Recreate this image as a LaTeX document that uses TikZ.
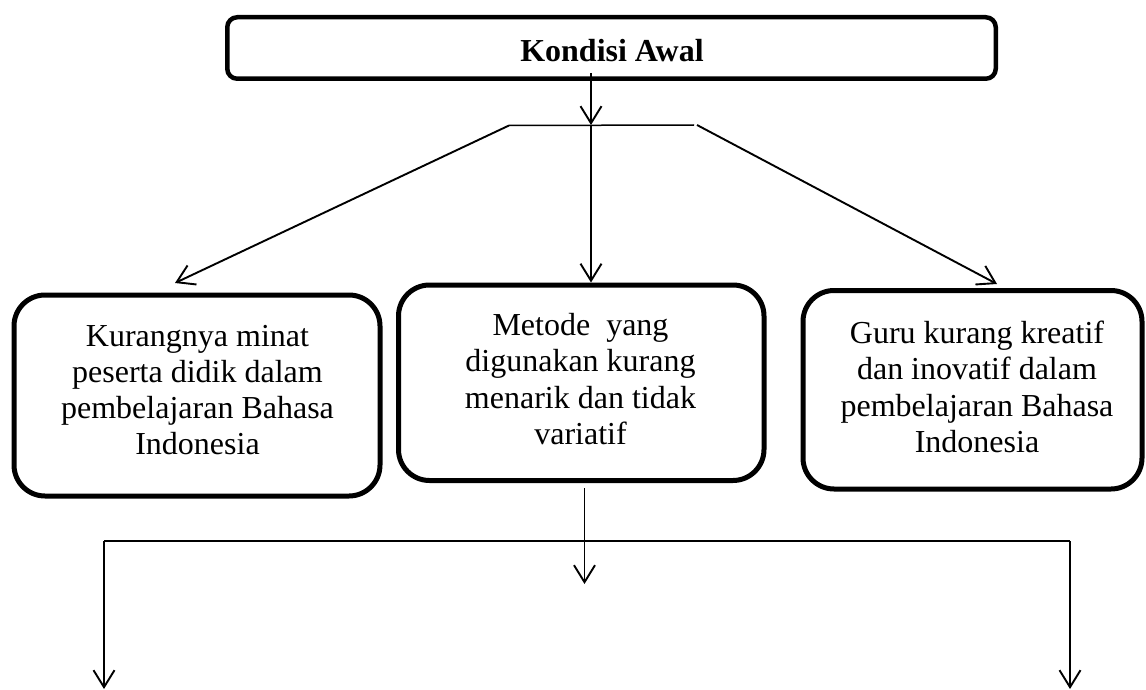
\documentclass[tikz,border=0pt]{standalone}
\usepackage{fontspec}
\setmainfont{Liberation Serif}
\usetikzlibrary{arrows.meta}
\begin{document}
\begin{tikzpicture}[x=1pt,y=-1pt,
  bigbox/.style={draw,line width=5pt,rounded corners=31pt,inner sep=0pt},
  titlebox/.style={draw,line width=4.5pt,rounded corners=10pt,inner sep=0pt},
  txt/.style={align=center,inner sep=0pt,font=\fontsize{32}{36.3}\selectfont},
  conn/.style={line width=1.9pt,-{Straight Barb[length=17pt,width=21pt,line width=1.9pt]}},
  plain/.style={line width=1.5pt}]
\useasboundingbox (0,0) rectangle (1146,690);
% boxes
\node[titlebox,minimum width=768.5pt,minimum height=61.5pt] (top) at (611.5,48) {};
\node[inner sep=0pt,anchor=base,font=\fontsize{32}{36}\selectfont\bfseries] (toptxt) at (612,62) {Kondisi Awal};
\node[bigbox,minimum width=366pt,minimum height=201pt] (left) at (197,395.5) {};
\node[bigbox,minimum width=365.5pt,minimum height=195.5pt] (mid) at (581.25,382.75) {};
\node[bigbox,minimum width=339pt,minimum height=198.5pt] (right) at (972.5,389.75) {};
\node[txt,anchor=north] (lefttxt) at (197.5,324.7) {Kurangnya minat\\peserta didik dalam\\pembelajaran Bahasa\\Indonesia};
\node[txt,anchor=north] (midtxt) at (580.5,313) {Metode\ \ yang\\digunakan kurang\\menarik dan tidak\\variatif};
\node[txt,anchor=north] (righttxt) at (977,320.7) {Guru kurang kreatif\\dan inovatif dalam\\pembelajaran Bahasa\\Indonesia};
% junction coordinates
\coordinate (t0) at (591,73);
\coordinate (jC) at (591,125);
\coordinate (jL) at (509,125.5);
\coordinate (jR0) at (694,125);
\coordinate (jR) at (697,125);
\coordinate (aL) at (175,283);
\coordinate (aR) at (997,284);
\coordinate (aC) at (591,282.5);
\coordinate (m0) at (584.5,488);
\coordinate (mT) at (584.5,584);
\coordinate (bL) at (104,541);
\coordinate (bR) at (1070,541);
\coordinate (eL) at (104,689);
\coordinate (eR) at (1070,689);
% connectors
\draw[conn] (t0) -- (jC);
\draw[plain] (jL) -- (jR0);
\draw[conn] (jL) -- (aL);
\draw[conn] (jC) -- (aC);
\draw[conn] (jR) -- (aR);
\draw[conn] (m0) -- (mT);
\draw[plain] (bL) -- (bR);
\draw[conn] (bL) -- (eL);
\draw[conn] (bR) -- (eR);
\end{tikzpicture}
\end{document}
